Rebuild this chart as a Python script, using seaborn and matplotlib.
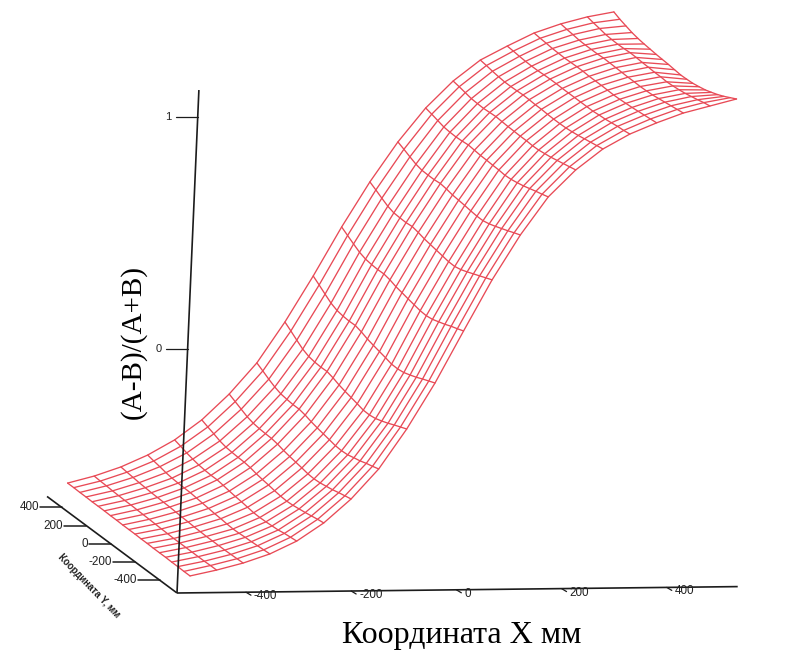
import numpy as np
import pandas as pd
import seaborn as sns
from matplotlib import pyplot as plt

# surface grid, mm
x_vals = [-500, -450, -400, -350, -300, -250, -200, -150, -100, -50, 0,
          50, 100, 150, 200, 250, 300, 350, 400, 450, 500]
y_vals = [500, 450, 400, 350, 300, 250, 200, 150, 100, 50, 0,
          -50, -100, -150, -200, -250, -300, -350, -400, -450, -500]

# (A-B)/(A+B), one row per x, columns follow y_vals
z_vals = [
    [-.985, -.985, -.986, -.986, -.987, -.987, -.987, -.988, -.988, -.989, -.989, -.989, -.990, -.990, -.991, -.991, -.991, -.992, -.992, -.993, -.993],
    [-.956, -.958, -.959, -.961, -.962, -.963, -.963, -.964, -.965, -.966, -.967, -.968, -.969, -.970, -.970, -.970, -.970, -.970, -.970, -.969, -.969],
    [-.918, -.921, -.924, -.927, -.929, -.931, -.932, -.933, -.934, -.936, -.938, -.939, -.941, -.942, -.943, -.943, -.943, -.943, -.942, -.941, -.940],
    [-.868, -.874, -.879, -.885, -.889, -.891, -.892, -.893, -.896, -.899, -.902, -.905, -.907, -.910, -.912, -.911, -.909, -.908, -.906, -.904, -.902],
    [-.804, -.812, -.821, -.828, -.834, -.837, -.839, -.839, -.843, -.848, -.852, -.855, -.859, -.863, -.864, -.863, -.861, -.859, -.854, -.851, -.848],
    [-.719, -.730, -.740, -.751, -.758, -.761, -.763, -.764, -.768, -.775, -.780, -.784, -.789, -.793, -.795, -.793, -.789, -.785, -.780, -.775, -.771],
    [-.609, -.622, -.635, -.648, -.656, -.660, -.662, -.663, -.668, -.676, -.682, -.687, -.692, -.698, -.700, -.698, -.693, -.688, -.681, -.675, -.669],
    [-.476, -.491, -.507, -.521, -.531, -.535, -.538, -.538, -.544, -.553, -.560, -.566, -.572, -.578, -.580, -.578, -.571, -.565, -.556, -.549, -.541],
    [-.301, -.320, -.340, -.359, -.371, -.376, -.378, -.377, -.385, -.396, -.404, -.411, -.418, -.426, -.427, -.423, -.414, -.404, -.392, -.381, -.370],
    [-.104, -.123, -.143, -.162, -.174, -.179, -.181, -.180, -.188, -.199, -.207, -.214, -.221, -.229, -.230, -.226, -.217, -.207, -.195, -.184, -.173],
    [.106, .089, .072, .056, .046, .042, .040, .041, .035, .025, .019, .012, .006, .000, -.002, .002, .011, .020, .031, .040, .050],
    [.299, .284, .268, .253, .244, .242, .241, .244, .238, .230, .225, .220, .215, .210, .209, .215, .225, .236, .247, .258, .269],
    [.470, .458, .445, .433, .426, .425, .425, .428, .424, .418, .415, .412, .408, .405, .405, .411, .420, .430, .440, .451, .461],
    [.615, .608, .600, .592, .589, .588, .590, .593, .590, .587, .586, .584, .583, .580, .582, .587, .593, .601, .609, .616, .624],
    [.730, .725, .719, .713, .711, .710, .712, .714, .712, .710, .709, .708, .708, .706, .707, .711, .715, .721, .727, .733, .739],
    [.819, .815, .810, .806, .803, .803, .804, .806, .805, .803, .803, .801, .800, .800, .801, .804, .808, .813, .818, .823, .828],
    [.878, .876, .873, .871, .870, .870, .872, .873, .873, .872, .872, .872, .872, .872, .872, .875, .877, .881, .885, .887, .891],
    [.933, .930, .928, .925, .924, .923, .924, .925, .925, .923, .923, .923, .922, .921, .922, .924, .926, .929, .932, .935, .938],
    [.971, .967, .964, .960, .959, .959, .959, .961, .960, .959, .958, .957, .957, .956, .957, .959, .963, .967, .971, .975, .979],
    [1.000, .994, .989, .983, .981, .980, .981, .983, .982, .980, .979, .977, .977, .975, .977, .980, .984, .990, .996, 1.003, 1.008],
    [1.020, 1.008, .999, .990, .984, .980, .977, .974, .972, .970, .967, .964, .965, .967, .972, .978, .987, .997, 1.009, 1.023, 1.037],
]

x_ticks = [-400, -200, 0, 200, 400]
y_ticks = [400, 200, 0, -200, -400]
z_ticks = [0, 1]

x_title = "Координата X мм"
y_title = "Координата Y, мм"
z_title = "(A-B)/(A+B)"

RED = "#e84a56"
INK = "#1c1c1c"


# oblique view of the box, result is in figure pixels
def project(x, y, z):
    sx = 177 + .526 * (x + 533) - .1225 * (y + 540) + 10.1 * (z + 1.05)
    sy = 593 - .006 * (x + 533) - .091 * (y + 540) - 232 * (z + 1.05)
    return sx, sy


rows = []
for i, x in enumerate(x_vals):
    for j, y in enumerate(y_vals):
        sx, sy = project(x, y, z_vals[i][j])
        rows.append({"x": x, "y": y, "sx": sx, "sy": sy})
surf = pd.DataFrame(rows)

sns.set_theme(style="white")

fig = plt.figure(figsize=(7.99, 6.5), dpi=100)
ax = fig.add_axes([0, 0, 1, 1])

sns.lineplot(data=surf, x="sx", y="sy", units="x", estimator=None, sort=False,
             color=RED, linewidth=.95, legend=False, ax=ax)
sns.lineplot(data=surf, x="sx", y="sy", units="y", estimator=None, sort=False,
             color=RED, linewidth=.95, legend=False, ax=ax)

# the three axes out of the corner
for end in [(533, -540, -1.05), (-533, 521, -1.05), (-533, -540, 1.118)]:
    a = project(-533, -540, -1.05)
    b = project(*end)
    ax.plot([a[0], b[0]], [a[1], b[1]], color=INK, lw=1.2, solid_capstyle="butt")

for t in x_ticks:
    sx, sy = project(t, -540, -1.05)
    ax.plot([sx - 1, sx + 4], [sy, sy + 3], color=INK, lw=.9)
    ax.text(sx + 7, sy + 4, str(t), fontsize=8.4, family="Liberation Sans",
            color="#222222", ha="left", va="center")

for t in y_ticks:
    sx, sy = project(-533, t, -1.05)
    ax.plot([sx - 22, sx], [sy, sy], color=INK, lw=1.1)
    ax.text(sx - 23, sy, str(t), fontsize=8.4, family="Liberation Sans",
            color="#222222", ha="right", va="center")

for t in z_ticks:
    sx, sy = project(-533, -540, t)
    ax.plot([sx - 22, sx], [sy, sy], color=INK, lw=.9)
    ax.text(sx - 26, sy, str(t), fontsize=8, family="Liberation Sans",
            color="#222222", ha="right", va="center")

ax.text(133, 342, z_title, rotation=90, fontsize=21, family="Liberation Serif",
        color="black", ha="center", va="center")
ax.text(462, 636, x_title, fontsize=23, family="Liberation Serif",
        color="black", ha="center", va="center")
ax.text(89, 586, y_title, rotation=-46, fontsize=7, family="Liberation Sans",
        fontweight="bold", color="#222222", ha="center", va="center")

ax.set_xlim(0, 799)
ax.set_ylim(650, 0)
ax.axis("off")

fig.savefig("out.png", dpi=100)
